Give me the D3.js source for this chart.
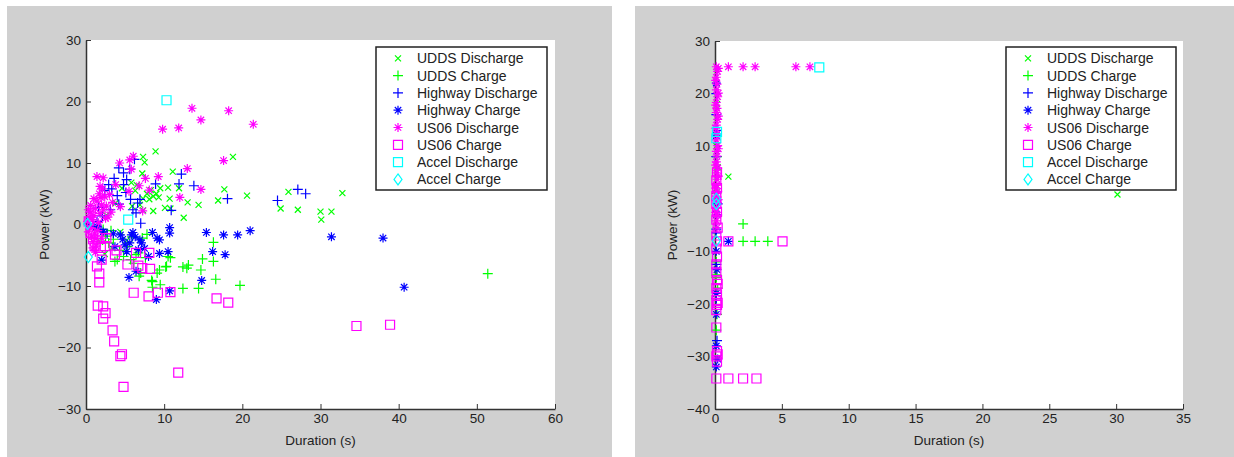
<!DOCTYPE html>
<html>
<head>
<meta charset="utf-8">
<script src="https://cdn.jsdelivr.net/npm/d3@7"></script>
<style>
  body { margin:0; background:#fff; }
  svg text { font-family: "Liberation Sans", Arial, sans-serif; fill:#222; }
</style>
</head>
<body>
<div id="chart"></div>
<script>
// series names, in plotting order
var seriesNames = ["UDDS Discharge","UDDS Charge","Highway Discharge","Highway Charge",
                   "US06 Discharge","US06 Charge","Accel Discharge","Accel Charge"];

// ---- left plot data [duration s, power kW] ----
var uddsDisL = [[8.9,11.9],[18.8,11.0],[7.3,11.0],[7.5,10.1],[11.1,8.6],[7.2,8.3],[17.7,5.7],[20.6,4.7],
  [16.9,3.9],[13.0,3.6],[14.4,3.2],[12.5,1.1],[10.7,4.2],[10.1,2.7],[10.8,2.6],[10.5,6.0],[11.9,5.9],
  [9.5,5.9],[9.0,5.0],[8.6,4.6],[8.1,4.1],[7.8,5.0],[7.3,4.2],[8.6,2.2],[7.3,2.3],[25.9,5.3],[24.9,2.6],
  [27.1,2.4],[30.0,2.1],[30.1,0.8],[31.4,2.1],[32.8,5.1],[5.8,6.8],[6.3,5.5],[6.9,3.2],[5.9,3.0],
  [6.5,6.4],[9.3,4.4],[8.3,5.6],[4.6,5.9],[3.8,3.5],[2.6,1.5],[1.2,-0.6],[1.8,-2.8],[3.3,-3.8],
  [4.4,-1.2],[2.4,-4.8],[5.2,-2.6]];
var uddsChgL = [[51.4,-8.0],[19.7,-9.9],[16.6,-8.9],[16.3,-6.0],[16.3,-2.9],[14.9,-5.6],[14.7,-7.4],
  [14.4,-10.4],[12.4,-10.4],[13.1,-6.6],[12.4,-6.9],[12.9,-7.1],[10.3,-6.8],[10.5,-5.2],[10.8,-5.4],
  [9.5,-9.8],[9.1,-7.9],[8.5,-9.3],[8.5,-10.2],[7.0,-7.9],[6.8,-8.4],[6.7,-4.6],[6.4,-4.9],[5.7,-5.7],
  [4.8,-5.2],[4.0,-5.7],[3.2,-1.0],[3.5,-2.4],[2.9,-3.0],[2.5,-1.9],[2.2,-0.8],[7.2,-2.2],[7.8,-1.6],
  [9.4,-7.4],[8.4,-9.1],[10.2,-6.9],[5.3,-3.6],[6.1,-6.3],[4.3,-4.2],[3.7,-6.0],[7.6,-5.4],[5.9,-2.0]];
var hwyDisL = [[27.1,5.7],[28.1,5.0],[24.5,3.9],[18.1,4.2],[13.8,6.3],[12.2,8.2],[10.9,2.3],[11.9,6.6],
  [8.9,6.6],[6.9,4.1],[6.6,3.5],[7.0,0.2],[6.4,1.9],[6.0,2.4],[5.7,4.1],[5.2,7.3],[4.8,8.4],[4.2,9.2],
  [3.6,7.5],[4.0,4.7],[2.9,6.5],[2.4,5.5],[5.1,5.2],[4.8,6.5],[6.2,10.6],[3.1,2.4],[2.1,1.4],[1.4,0.5],
  [4.2,3.3],[1.0,-0.3],[1.9,-0.8],[5.6,9.0],[3.3,5.8],[1.6,2.8],[2.7,-1.5]];
var hwyChgL = [[40.7,-10.2],[38.0,-2.2],[31.4,-2.0],[21.0,-1.0],[19.4,-1.7],[17.6,-1.7],[15.4,-1.3],
  [17.8,-4.9],[16.2,-4.4],[14.8,-9.1],[10.7,-10.8],[9.0,-12.2],[5.5,-8.6],[6.4,-7.6],[10.5,-4.4],
  [9.4,-4.7],[9.4,-2.5],[9.1,-2.2],[10.7,-1.4],[10.7,-0.5],[8.5,-1.3],[5.8,-1.7],[6.0,-1.3],[6.9,-2.5],
  [7.1,-3.0],[5.0,-3.3],[6.7,-4.1],[5.2,-4.4],[4.4,-1.7],[3.5,-1.5],[2.0,-5.8],[2.2,-1.2],[1.5,-0.4],
  [0.5,-0.2],[3.7,-3.6],[4.7,-2.4],[7.5,-3.9],[6.3,-2.0],[5.6,-3.0],[8.0,-5.2]];
var us06DisL = [[0.2,0.5],[0.4,1.2],[0.6,2.0],[0.8,0.8],[1.0,1.5],[1.2,2.6],[0.5,-0.5],[0.3,-1.2],
  [0.7,-2.0],[0.9,-2.8],[1.1,-1.5],[1.3,-3.5],[1.5,-1.0],[1.6,0.3],[1.8,1.8],[2.0,3.2],[2.2,2.4],
  [2.4,4.5],[2.6,3.0],[2.8,1.2],[1.4,3.8],[1.0,4.2],[1.7,5.0],[2.1,5.8],[1.8,6.2],[2.2,7.6],[1.4,7.8],
  [3.0,4.9],[3.4,3.6],[3.8,6.5],[4.4,2.9],[4.3,10.0],[5.5,5.4],[5.6,10.5],[5.8,9.0],[6.05,11.1],
  [6.8,6.3],[7.6,7.5],[7.25,2.2],[8.1,5.6],[9.25,7.8],[12.0,4.4],[12.96,9.1],[14.7,5.7],[17.6,10.4],
  [9.8,15.5],[11.86,15.7],[13.56,18.9],[14.7,17.0],[18.25,18.5],[21.4,16.3],[0.9,-3.8],[1.2,-4.5],
  [2.0,-2.2],[2.5,1.0],[3.2,2.0],[0.6,3.1],[1.9,4.4],[0.3,2.4],[1.3,-2.3]];
var us06ChgL = [[34.6,-16.5],[38.9,-16.3],[16.7,-12.0],[18.2,-12.7],[11.8,-24.1],[4.8,-26.4],
  [4.4,-21.4],[4.6,-21.1],[3.6,-19.0],[3.4,-17.2],[2.2,-15.3],[2.5,-14.4],[2.2,-13.3],[1.5,-13.2],
  [1.7,-9.4],[1.7,-8.0],[1.4,-6.8],[6.1,-11.1],[8.0,-11.7],[9.2,-11.1],[10.8,-11.0],[8.1,-4.6],
  [7.2,-7.1],[8.2,-7.2],[6.4,-4.6],[5.3,-6.5],[6.7,-6.7],[3.7,-4.9],[3.9,-4.2],[2.0,-5.7],[1.9,-3.8],
  [1.1,-3.5],[0.35,0.5],[0.6,-1.4],[0.9,-2.4],[2.4,-3.5],[2.6,-2.2]];
var accDisL = [[10.3,20.2],[5.4,0.8]];
var accChgL = [[0.2,0.1],[0.3,-5.3]];

// ---- right plot data ----
var uddsDisR = [[0.1,22.0],[0.15,18.0],[0.1,10.0],[0.2,6.0],[0.1,2.0],[1.0,4.2],[30.1,0.8]];
var uddsChgR = [[2.1,-4.8],[2.1,-8.1],[3.0,-8.1],[3.95,-8.1],[0.1,-15.0],[0.15,-22.0],[0.1,-12.0],
  [0.2,-17.0],[0.1,-25.0],[0.1,1.0],[0.15,8.0],[0.1,-14.5]];
var hwyDisR = [[0.1,20.0],[0.15,13.0],[0.1,-5.8],[0.1,8.0],[0.2,-1.0],[0.1,16.0],[0.1,-12.5],
  [0.1,-19.0],[0.15,-27.0],[0.1,-6.5]];
var hwyChgR = [[1.0,-8.1],[0.1,-28.0],[0.1,-32.0],[0.15,-13.5],[0.1,-18.0],[0.1,-10.0],[0.1,-22.0],
  [0.2,-30.5],[0.1,-3.0],[0.1,12.0],[0.1,22.0]];
var us06DisR = [[0.1,25.1],[1.0,25.1],[2.1,25.1],[3.0,25.1],[6.05,25.1],[7.1,25.1],[0.2,24.2],
  [0.1,23.1],[0.15,21.8],[0.1,20.7],[0.2,19.4],[0.1,18.3],[0.15,17.2],[0.1,16.4],[0.2,15.1],
  [0.1,14.0],[0.15,12.3],[0.1,11.2],[0.2,10.1],[0.1,9.0],[0.15,8.1],[0.1,7.0],[0.2,5.8],[0.1,4.9],
  [0.15,3.7],[0.1,2.6],[0.2,1.4],[0.1,0.5],[0.15,-0.7],[0.1,-1.8],[0.2,-3.1],[0.1,-4.2],[0.15,-5.5],
  [0.25,24.8],[0.05,22.5],[0.25,20.1],[0.05,17.8],[0.25,15.7],[0.05,13.4],[0.25,9.5],[0.05,6.4],
  [0.25,4.3],[0.05,2.0],[0.25,-0.2],[0.05,-2.6]];
var us06ChgR = [[0.1,-34.2],[1.0,-34.2],[2.1,-34.2],[3.1,-34.2],[1.0,-8.1],[5.05,-8.1],[0.1,-1.0],
  [0.15,-2.5],[0.1,-4.0],[0.2,-5.5],[0.1,-7.0],[0.15,-8.1],[0.1,-9.5],[0.15,-11.0],[0.1,-12.5],
  [0.1,-14.0],[0.15,-15.5],[0.1,-17.0],[0.15,-18.2],[0.1,-19.3],[0.15,-20.2],[0.1,-21.2],
  [0.1,-24.5],[0.15,-29.0],[0.1,-30.0],[0.15,-31.0],[0.1,0.5],[0.15,2.0],[0.1,3.5],[0.15,5.0],
  [0.2,-29.6],[0.2,-16.2],[0.2,-19.8]];
var accDisR = [[7.8,25.0],[0.15,12.7],[0.1,11.5]];
var accChgR = [[0.1,0.0],[0.1,-8.0],[0.1,-1.0]];

var xTicksL = [0,10,20,30,40,50,60], yTicksL = [-30,-20,-10,0,10,20,30];
var xTicksR = [0,5,10,15,20,25,30,35], yTicksR = [-40,-30,-20,-10,0,10,20,30];

// marker style per series
var colors = ["#00ff00","#00ff00","#0000ff","#0000ff","#ff00ff","#ff00ff","#00ffff","#00ffff"];
var shapes = ["x","plus","plus","star","star","square","square","diamond"];

function markerPath(shape){
  if(shape=="x") return "M-3,-3L3,3M-3,3L3,-3";
  if(shape=="plus") return "M-5,0H5M0,-5V5";
  if(shape=="star") return "M-4.5,0H4.5M0,-4.5V4.5M-3.2,-3.2L3.2,3.2M-3.2,3.2L3.2,-3.2";
  if(shape=="square") return "M-4.5,-4.5H4.5V4.5H-4.5Z";
  if(shape=="diamond") return "M0,-5.5L4,0L0,5.5L-4,0Z";
}

var W = 1234, H = 457;
var svg = d3.select("#chart").append("svg").attr("width",W).attr("height",H);

function panel(opt){
  svg.append("rect").attr("x",opt.bg[0]).attr("y",opt.bg[1]).attr("width",opt.bg[2]).attr("height",opt.bg[3])
    .attr("fill","#d0d0d0");
  var xs = d3.scaleLinear().domain(opt.xd).range([opt.left,opt.right]);
  var ys = d3.scaleLinear().domain(opt.yd).range([opt.bottom,opt.top]);
  svg.append("rect").attr("x",opt.left).attr("y",opt.top)
    .attr("width",opt.right-opt.left).attr("height",opt.bottom-opt.top).attr("fill","#fff");

  var gx = svg.append("g").attr("transform","translate(0,"+opt.bottom+")")
    .call(d3.axisBottom(xs).tickValues(opt.xt).tickSizeInner(-5).tickSizeOuter(0).tickPadding(4));
  var gy = svg.append("g").attr("transform","translate("+opt.left+",0)")
    .call(d3.axisLeft(ys).tickValues(opt.yt).tickSizeInner(-5).tickSizeOuter(0).tickPadding(5));
  [gx,gy].forEach(function(g){
    g.select(".domain").attr("stroke","#333").attr("stroke-width",1.5);
    g.selectAll(".tick line").attr("stroke","#333");
    g.selectAll("text").attr("font-size","13.5px").attr("fill","#222")
      .attr("font-family","'Liberation Sans', Arial, sans-serif");
  });

  // scatter points
  opt.data.forEach(function(d,i){
    svg.append("g").selectAll("path").data(d).enter().append("path")
      .attr("d",markerPath(shapes[i]))
      .attr("transform",function(p){return "translate("+xs(p[0])+","+ys(p[1])+")";})
      .attr("fill","none").attr("stroke",colors[i]).attr("stroke-width",1.2);
  });

  // axis labels
  svg.append("text").attr("x",(opt.left+opt.right)/2).attr("y",opt.bottom+36)
    .attr("text-anchor","middle").attr("font-size","13.5px").text("Duration (s)");
  svg.append("text").attr("transform","translate("+opt.ylx+","+((opt.top+opt.bottom)/2)+") rotate(-90)")
    .attr("text-anchor","middle").attr("font-size","13.5px").text("Power (kW)");

  // legend
  var lg = svg.append("g").attr("transform","translate("+opt.leg[0]+","+opt.leg[1]+")");
  lg.append("rect").attr("width",opt.leg[2]).attr("height",143).attr("fill","#fff")
    .attr("stroke","#222").attr("stroke-width",1.5);
  seriesNames.forEach(function(name,i){
    var cy = 11.3 + i*17.3;
    lg.append("path").attr("d",markerPath(shapes[i]))
      .attr("transform","translate(22,"+cy+")")
      .attr("fill","none").attr("stroke",colors[i]).attr("stroke-width",1.2);
    lg.append("text").attr("x",41).attr("y",cy+5).attr("font-size","14px").text(name);
  });
}

panel({bg:[7,6,605,451], left:86, right:555, top:40, bottom:409, xd:[0,60], yd:[-30,30],
  xt:xTicksL, yt:yTicksL, ylx:49, leg:[376,47,171],
  data:[uddsDisL,uddsChgL,hwyDisL,hwyChgL,us06DisL,us06ChgL,accDisL,accChgL]});
panel({bg:[635,6,599,451], left:715, right:1183, top:41, bottom:409, xd:[0,35], yd:[-40,30],
  xt:xTicksR, yt:yTicksR, ylx:677, leg:[1006,47,170],
  data:[uddsDisR,uddsChgR,hwyDisR,hwyChgR,us06DisR,us06ChgR,accDisR,accChgR]});
</script>
</body>
</html>
